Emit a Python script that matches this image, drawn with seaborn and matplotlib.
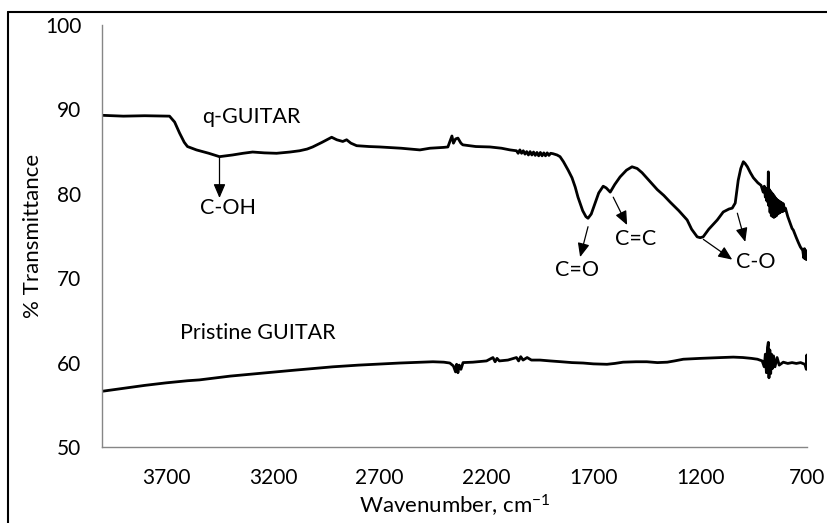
import numpy as np
import pandas as pd
import matplotlib
matplotlib.use('Agg')
import matplotlib.pyplot as plt
import seaborn as sns
from matplotlib.lines import Line2D

# ---------------- data ----------------
q_wn = [4000, 3900, 3800, 3700, 3684, 3660, 3637, 3615, 3600, 3558, 3500, 3450, 3389, 3340,
        3295, 3240, 3183, 3120, 3075, 3040, 3014, 2970, 2925, 2901, 2873, 2855, 2835, 2808,
        2750, 2700, 2600, 2512, 2465, 2400, 2381, 2370, 2362, 2355, 2345, 2334, 2320, 2311,
        2250, 2184, 2130, 2090, 2060, 2052, 2044, 2036, 2028, 2020, 2012, 2004, 1996, 1988,
        1980, 1972, 1964, 1956, 1948, 1940, 1932, 1924, 1916, 1908, 1900, 1889, 1870, 1856,
        1840, 1818, 1800, 1785,
        1772, 1750, 1735, 1725, 1710, 1692, 1675, 1654, 1640, 1621, 1600, 1575, 1545, 1519,
        1495, 1472, 1440, 1401, 1370, 1340, 1300, 1261, 1240, 1214, 1200, 1186, 1160, 1120,
        1092, 1065, 1050, 1036, 1022, 1010, 998, 990, 979, 965, 951, 930, 915, 905, 900, 895,
        892, 889, 886, 883, 881, 879, 876, 873, 870, 867, 864, 861, 858, 855, 852, 849, 846,
        843, 840, 837, 834, 831, 828, 825, 822, 819, 816, 813, 810, 806, 801,
        790, 780, 770, 764, 750, 740, 731, 720, 715, 712, 709, 706, 703, 701, 700]
q_T = [89.3, 89.2, 89.25, 89.2, 89.2, 88.5, 87.2, 86.1, 85.6, 85.2, 84.8, 84.4, 84.6, 84.8,
       84.95, 84.85, 84.8, 84.95, 85.1, 85.3, 85.55, 86.1, 86.7, 86.4, 86.2, 86.4, 86.0, 85.7,
       85.6, 85.55, 85.4, 85.2, 85.4, 85.5, 85.55, 86.3, 86.85, 86.0, 86.5, 86.6, 86.0, 85.8,
       85.6, 85.55, 85.4, 85.2, 85.1, 84.8, 85.2, 84.8, 85.1, 84.7, 85.0, 84.6, 85.0, 84.6,
       84.95, 84.55, 84.9, 84.5, 84.9, 84.5, 84.85, 84.5, 84.85, 84.55, 84.8, 84.75, 84.6, 84.4,
       83.8, 82.8, 81.9, 80.8,
       79.6, 78.0, 77.3, 77.1, 77.6, 78.9, 80.1, 80.9, 80.7, 80.2, 81.1, 82.0, 82.8, 83.2,
       83.0, 82.5, 81.6, 80.5, 79.8, 79.0, 78.0, 76.9, 75.8, 74.9, 74.8, 74.9, 75.8, 76.9,
       77.85, 78.2, 78.3, 78.9, 81.6, 83.0, 83.8, 83.6, 83.2, 82.5, 81.9, 81.3, 81.0, 80.2, 80.9, 79.6,
       80.6, 79.2, 80.6, 79.0, 82.6, 78.6, 80.5, 77.8, 80.3, 77.4, 80.1, 77.3, 79.9, 77.2, 79.7, 77.3, 79.5,
       77.4, 79.3, 77.6, 79.2, 77.7, 79.1, 77.8, 79.0, 77.9, 78.9, 77.9, 78.8, 78.0, 78.3,
       77.3, 76.6, 75.9, 75.7, 74.8, 74.2, 73.7, 73.3, 72.4, 73.5, 72.3, 73.3, 72.2, 73.0, 72.6]

p_wn = [4000, 3900, 3800, 3700, 3600, 3544, 3400, 3229, 3100, 2920, 2800, 2606, 2451, 2400,
        2372, 2355, 2345, 2340, 2334, 2328, 2320, 2310, 2264, 2200, 2170, 2160, 2151, 2140,
        2100, 2060, 2050, 2040, 2029, 2010, 1990, 1950, 1903, 1850, 1800, 1748, 1700, 1636,
        1600, 1561, 1500, 1450, 1400, 1354, 1320, 1279, 1200, 1100, 1045, 1000, 960, 932,
        910, 900, 895, 890, 885, 881, 878, 874, 870, 866, 862, 857, 850, 840, 830, 811, 790,
        770, 750, 730, 710, 703, 701, 700]
p_T = [56.6, 56.95, 57.3, 57.6, 57.85, 57.95, 58.4, 58.8, 59.1, 59.5, 59.7, 59.95, 60.1, 60.05,
       59.95, 59.6, 58.9, 59.8, 58.8, 59.7, 59.2, 60.0, 60.05, 60.2, 60.6, 60.1, 60.5, 60.2,
       60.3, 60.6, 60.2, 60.7, 60.3, 60.6, 60.3, 60.3, 60.2, 60.1, 60.0, 59.95, 59.85, 59.8,
       59.9, 60.05, 60.1, 60.1, 60.0, 60.05, 60.2, 60.4, 60.5, 60.6, 60.65, 60.6, 60.5, 60.4,
       60.2, 59.5, 61.0, 58.8, 61.8, 62.4, 58.2, 61.5, 58.7, 61.0, 59.3, 60.8, 59.5, 60.6, 59.7, 60.05, 59.9,
       60.0, 59.9, 60.0, 59.8, 59.2, 60.9, 59.6]

x_ticks = [3700, 3200, 2700, 2200, 1700, 1200, 700]
y_ticks = [50, 60, 70, 80, 90, 100]

# ---------------- style ----------------
sns.set_theme(style='white')
plt.rcParams['font.family'] = ['Lato', 'DejaVu Sans']
plt.rcParams['mathtext.default'] = 'regular'

fig = plt.figure(figsize=(8.27, 5.23), dpi=100)
ax = fig.add_axes([102 / 827, 1 - 447 / 523, (807 - 102) / 827, (447 - 25) / 523])

df_q = pd.DataFrame({'wn': q_wn, 'T': q_T})
df_p = pd.DataFrame({'wn': p_wn, 'T': p_T})
sns.lineplot(data=df_q, x='wn', y='T', ax=ax, color='black', lw=2, estimator=None, sort=False)
sns.lineplot(data=df_p, x='wn', y='T', ax=ax, color='black', lw=2, estimator=None, sort=False)

ax.set_xlim(4000, 700)
ax.set_ylim(50, 100)
ax.set_xticks(x_ticks)
ax.set_yticks(y_ticks)
ax.set_xticklabels([str(t) for t in x_ticks])
ax.set_yticklabels([str(t) for t in y_ticks])

for s in ['top', 'right']:
    ax.spines[s].set_visible(False)
for s in ['left', 'bottom']:
    ax.spines[s].set_color('#868686')
    ax.spines[s].set_linewidth(1)

ax.tick_params(axis='both', direction='in', length=5, width=1, color='#868686',
               labelsize=15, labelcolor='black')
ax.tick_params(axis='y', pad=15)
ax.tick_params(axis='x', pad=15)

ax.set_xlabel('Wavenumber, cm$^{-1}$', fontsize=16, color='black', labelpad=4)
ax.set_ylabel('% Transmittance', fontsize=16, color='black', labelpad=1)

# ---------------- text labels & arrows ----------------
fs = 15.5
ax.text(3530, 89.1, 'q-GUITAR', fontsize=fs, ha='left', va='center', color='black')
ax.text(3637, 63.5, 'Pristine GUITAR', fontsize=fs, ha='left', va='center', color='black')
ax.text(3408, 78.3, 'C-OH', fontsize=fs, ha='center', va='center', color='black')
ax.text(1776, 71.0, 'C=O', fontsize=fs, ha='center', va='center', color='black')
ax.text(1504, 74.6, 'C=C', fontsize=fs, ha='center', va='center', color='black')
ax.text(942, 71.9, 'C-O', fontsize=fs, ha='center', va='center', color='black')

arrows = [((3450, 84.4), (3450, 79.5)),
          ((1725, 76.1), (1762, 72.5)),
          ((1607, 79.6), (1542, 76.3)),
          ((1185, 74.6), (1050, 72.2)),
          ((1026, 77.7), (989, 74.3))]
for start, end in arrows:
    ax.annotate('', xy=end, xytext=start,
                arrowprops=dict(arrowstyle='-|>,head_length=0.7,head_width=0.3',
                                color='black', lw=0.9, shrinkA=0, shrinkB=0,
                                mutation_scale=12))

# ---------------- outer frame ----------------
fig.add_artist(Line2D([8 / 827, 8 / 827], [0, 1 - 12 / 523], transform=fig.transFigure,
                      color='black', lw=1.5))
fig.add_artist(Line2D([8 / 827, 1], [1 - 12 / 523, 1 - 12 / 523], transform=fig.transFigure,
                      color='black', lw=1.5))

fig.savefig('out.png', dpi=100)
